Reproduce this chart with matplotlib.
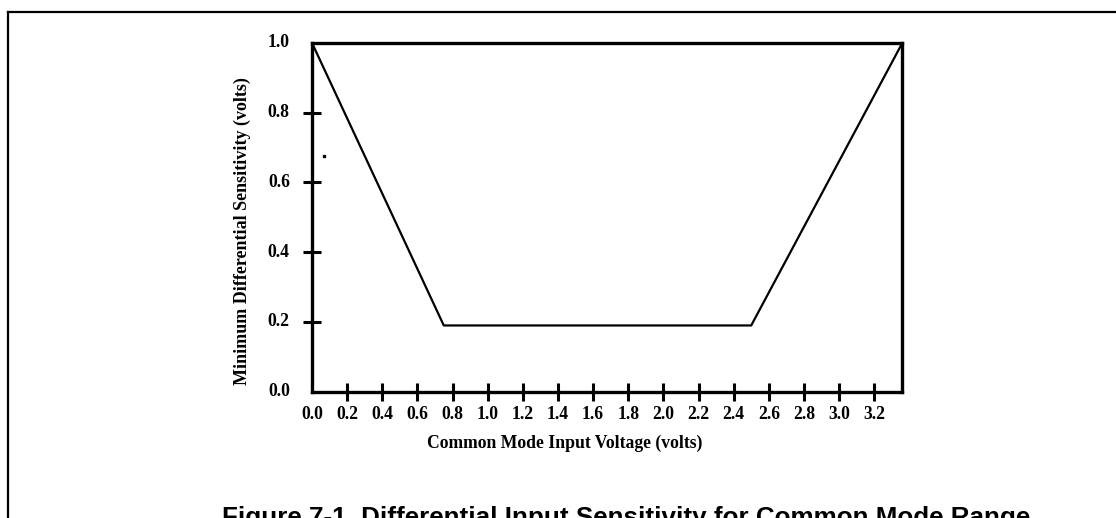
import matplotlib
matplotlib.use("Agg")
import matplotlib.pyplot as plt
from matplotlib.lines import Line2D

# Sensitivity curve: minimum differential input vs. common mode voltage
cm_voltage = [0.0, 0.75, 2.5, 3.36]
min_sensitivity = [1.0, 0.19, 0.19, 1.0]

x_ticks = [0.2, 0.4, 0.6, 0.8, 1.0, 1.2, 1.4, 1.6, 1.8, 2.0, 2.2, 2.4, 2.6, 2.8, 3.0, 3.2]
y_ticks = [0.2, 0.4, 0.6, 0.8]
x_tick_labels = ["0.0"] + [f"{v:.1f}" for v in x_ticks]
y_tick_labels = ["0.0", "0.2", "0.4", "0.6", "0.8", "1.0"]

# stray marker left on the plot
dot_x = [0.07]
dot_y = [0.676]

serif = "Liberation Serif"
sans = "Liberation Sans"
fs = 12.7

fig = plt.figure(figsize=(11.16, 5.18), dpi=100)
ax = fig.add_axes([0.2796, 0.2438, 0.5289, 0.6732])

ax.plot(cm_voltage, min_sensitivity, color="black", linewidth=1.6)
ax.plot(dot_x, dot_y, marker="s", markersize=2, color="black", linestyle="none")

ax.set_xlim(0, 3.36)
ax.set_ylim(0, 1.0)

for s in ax.spines.values():
    s.set_linewidth(2.4)

ax.set_xticks(x_ticks)
ax.set_yticks(y_ticks)
ax.set_xticklabels([])
ax.set_yticklabels([])
ax.tick_params(axis="both", direction="inout", length=13, width=2.2)

# tick labels, including the corner values that have no tick mark
x_label_pos = [0.0] + x_ticks
for v, lab in zip(x_label_pos, x_tick_labels):
    ax.annotate(lab, xy=(v, 0), xycoords=("data", "axes fraction"),
                xytext=(0, -16.5), textcoords="offset points",
                ha="center", va="center", fontsize=fs,
                fontweight="bold", family=serif)
y_label_pos = [0.0, 0.2, 0.4, 0.6, 0.8, 1.0]
for v, lab in zip(y_label_pos, y_tick_labels):
    ax.annotate(lab, xy=(0, v), xycoords=("axes fraction", "data"),
                xytext=(-16, 0), textcoords="offset points",
                ha="right", va="center", fontsize=fs,
                fontweight="bold", family=serif)

fig.text(565 / 1116, 1 - 443 / 518, "Common Mode Input Voltage (volts)",
         ha="center", va="center", fontsize=fs, fontweight="bold", family=serif)
fig.text(242 / 1116, 1 - 231 / 518, "Minimum Differential Sensitivity (volts)",
         ha="center", va="center", rotation=90, fontsize=13,
         fontweight="bold", family=serif)

# caption sits at the bottom edge of the page and runs past it
fig.text(222 / 1116, 1 - 525 / 518,
         "Figure 7-1. Differential Input Sensitivity for Common Mode Range",
         ha="left", va="baseline", fontsize=18.7, fontweight="bold", family=sans)

# page frame
fig.add_artist(Line2D([7.5 / 1116, 7.5 / 1116], [0, 1 - 12.3 / 518],
                      transform=fig.transFigure, color="black", linewidth=1.6))
fig.add_artist(Line2D([7.5 / 1116, 1], [1 - 12.3 / 518, 1 - 12.3 / 518],
                      transform=fig.transFigure, color="black", linewidth=1.6))

fig.savefig("out.png", dpi=100)
